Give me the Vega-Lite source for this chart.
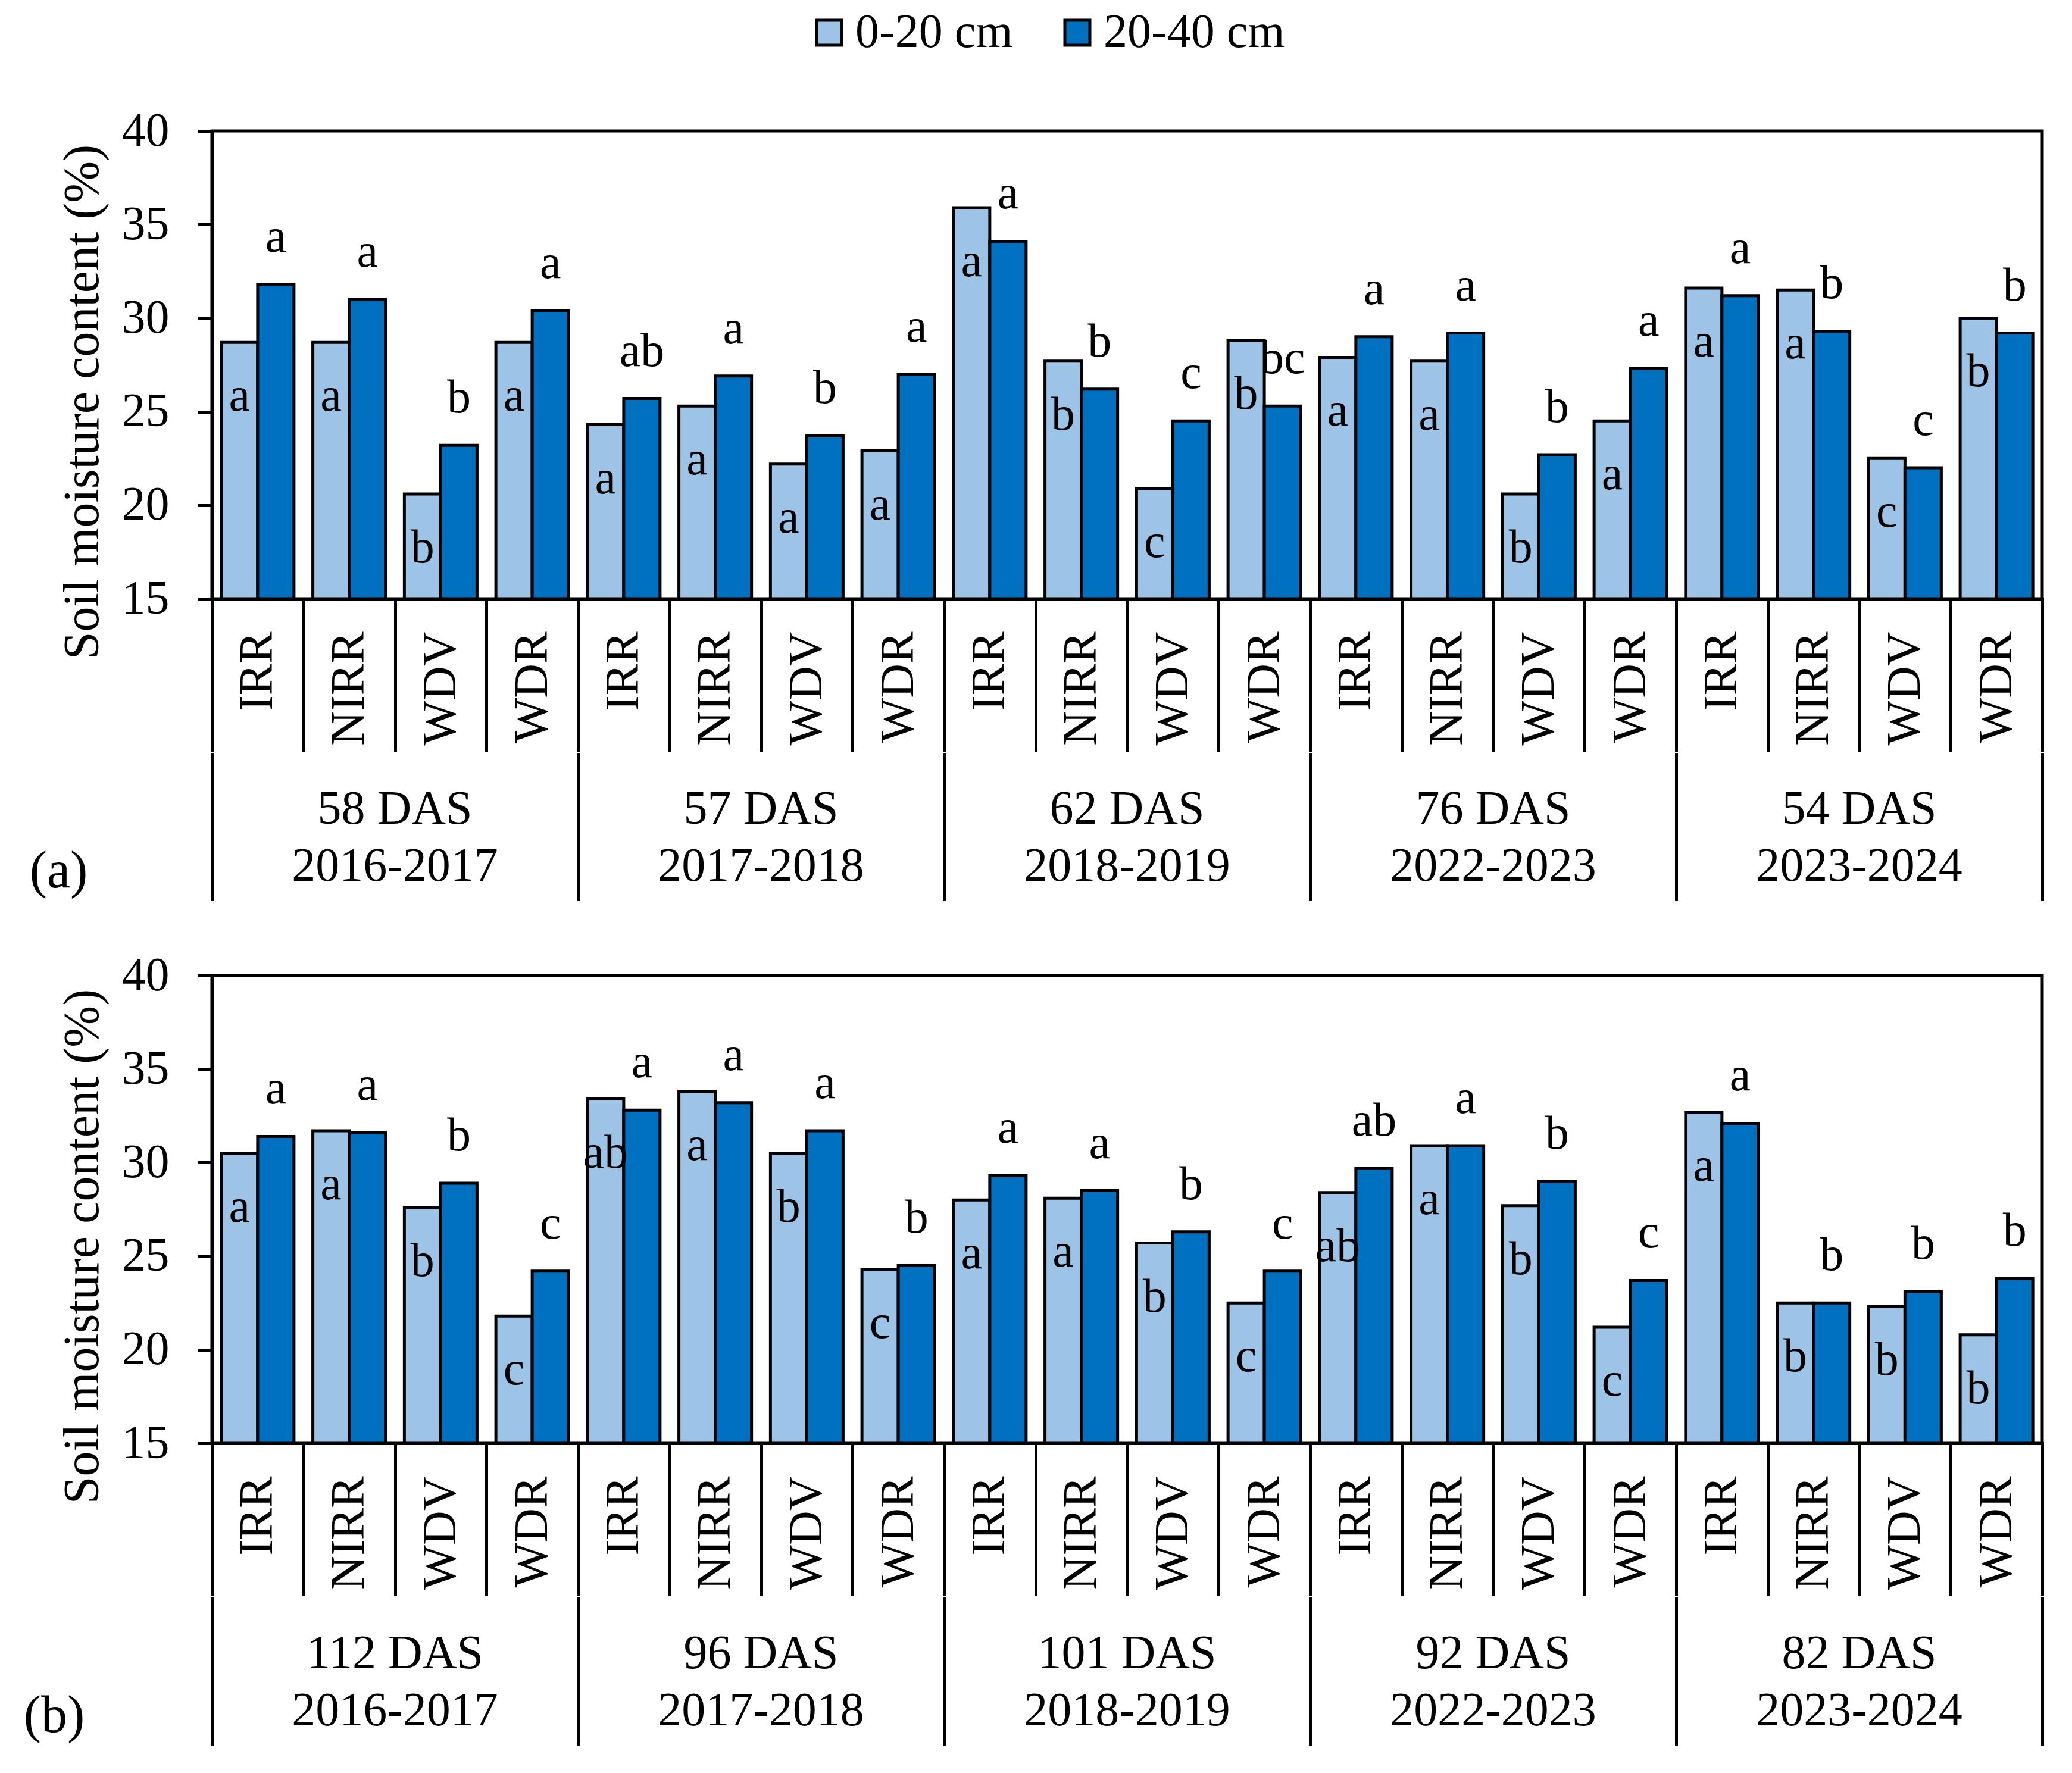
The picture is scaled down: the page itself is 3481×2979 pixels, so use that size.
{
  "$schema": "https://vega.github.io/schema/vega-lite/v6.json",
  "background": "white",
  "padding": {"left": 39, "top": 15, "right": 40, "bottom": 40},
  "datasets": {
    "a": [
      {"g":"2016-2017|IRR","d":"0-20 cm","v":28.7,"l":"a"},{"g":"2016-2017|IRR","d":"20-40 cm","v":31.8,"l":"a"},
      {"g":"2016-2017|NIRR","d":"0-20 cm","v":28.7,"l":"a"},{"g":"2016-2017|NIRR","d":"20-40 cm","v":31.0,"l":"a"},
      {"g":"2016-2017|WDV","d":"0-20 cm","v":20.6,"l":"b"},{"g":"2016-2017|WDV","d":"20-40 cm","v":23.2,"l":"b"},
      {"g":"2016-2017|WDR","d":"0-20 cm","v":28.7,"l":"a"},{"g":"2016-2017|WDR","d":"20-40 cm","v":30.4,"l":"a"},
      {"g":"2017-2018|IRR","d":"0-20 cm","v":24.3,"l":"a"},{"g":"2017-2018|IRR","d":"20-40 cm","v":25.7,"l":"ab"},
      {"g":"2017-2018|NIRR","d":"0-20 cm","v":25.3,"l":"a"},{"g":"2017-2018|NIRR","d":"20-40 cm","v":26.9,"l":"a"},
      {"g":"2017-2018|WDV","d":"0-20 cm","v":22.2,"l":"a"},{"g":"2017-2018|WDV","d":"20-40 cm","v":23.7,"l":"b"},
      {"g":"2017-2018|WDR","d":"0-20 cm","v":22.9,"l":"a"},{"g":"2017-2018|WDR","d":"20-40 cm","v":27.0,"l":"a"},
      {"g":"2018-2019|IRR","d":"0-20 cm","v":35.9,"l":"a"},{"g":"2018-2019|IRR","d":"20-40 cm","v":34.1,"l":"a"},
      {"g":"2018-2019|NIRR","d":"0-20 cm","v":27.7,"l":"b"},{"g":"2018-2019|NIRR","d":"20-40 cm","v":26.2,"l":"b"},
      {"g":"2018-2019|WDV","d":"0-20 cm","v":20.9,"l":"c"},{"g":"2018-2019|WDV","d":"20-40 cm","v":24.5,"l":"c"},
      {"g":"2018-2019|WDR","d":"0-20 cm","v":28.8,"l":"b"},{"g":"2018-2019|WDR","d":"20-40 cm","v":25.3,"l":"bc"},
      {"g":"2022-2023|IRR","d":"0-20 cm","v":27.9,"l":"a"},{"g":"2022-2023|IRR","d":"20-40 cm","v":29.0,"l":"a"},
      {"g":"2022-2023|NIRR","d":"0-20 cm","v":27.7,"l":"a"},{"g":"2022-2023|NIRR","d":"20-40 cm","v":29.2,"l":"a"},
      {"g":"2022-2023|WDV","d":"0-20 cm","v":20.6,"l":"b"},{"g":"2022-2023|WDV","d":"20-40 cm","v":22.7,"l":"b"},
      {"g":"2022-2023|WDR","d":"0-20 cm","v":24.5,"l":"a"},{"g":"2022-2023|WDR","d":"20-40 cm","v":27.3,"l":"a"},
      {"g":"2023-2024|IRR","d":"0-20 cm","v":31.6,"l":"a"},{"g":"2023-2024|IRR","d":"20-40 cm","v":31.2,"l":"a"},
      {"g":"2023-2024|NIRR","d":"0-20 cm","v":31.5,"l":"a"},{"g":"2023-2024|NIRR","d":"20-40 cm","v":29.3,"l":"b"},
      {"g":"2023-2024|WDV","d":"0-20 cm","v":22.5,"l":"c"},{"g":"2023-2024|WDV","d":"20-40 cm","v":22.0,"l":"c"},
      {"g":"2023-2024|WDR","d":"0-20 cm","v":30.0,"l":"b"},{"g":"2023-2024|WDR","d":"20-40 cm","v":29.2,"l":"b"}
    ],
    "b": [
      {"g":"2016-2017|IRR","d":"0-20 cm","v":30.5,"l":"a"},{"g":"2016-2017|IRR","d":"20-40 cm","v":31.4,"l":"a"},
      {"g":"2016-2017|NIRR","d":"0-20 cm","v":31.7,"l":"a"},{"g":"2016-2017|NIRR","d":"20-40 cm","v":31.6,"l":"a"},
      {"g":"2016-2017|WDV","d":"0-20 cm","v":27.6,"l":"b"},{"g":"2016-2017|WDV","d":"20-40 cm","v":28.9,"l":"b"},
      {"g":"2016-2017|WDR","d":"0-20 cm","v":21.8,"l":"c"},{"g":"2016-2017|WDR","d":"20-40 cm","v":24.2,"l":"c"},
      {"g":"2017-2018|IRR","d":"0-20 cm","v":33.4,"l":"ab"},{"g":"2017-2018|IRR","d":"20-40 cm","v":32.8,"l":"a"},
      {"g":"2017-2018|NIRR","d":"0-20 cm","v":33.8,"l":"a"},{"g":"2017-2018|NIRR","d":"20-40 cm","v":33.2,"l":"a"},
      {"g":"2017-2018|WDV","d":"0-20 cm","v":30.5,"l":"b"},{"g":"2017-2018|WDV","d":"20-40 cm","v":31.7,"l":"a"},
      {"g":"2017-2018|WDR","d":"0-20 cm","v":24.3,"l":"c"},{"g":"2017-2018|WDR","d":"20-40 cm","v":24.5,"l":"b"},
      {"g":"2018-2019|IRR","d":"0-20 cm","v":28.0,"l":"a"},{"g":"2018-2019|IRR","d":"20-40 cm","v":29.3,"l":"a"},
      {"g":"2018-2019|NIRR","d":"0-20 cm","v":28.1,"l":"a"},{"g":"2018-2019|NIRR","d":"20-40 cm","v":28.5,"l":"a"},
      {"g":"2018-2019|WDV","d":"0-20 cm","v":25.7,"l":"b"},{"g":"2018-2019|WDV","d":"20-40 cm","v":26.3,"l":"b"},
      {"g":"2018-2019|WDR","d":"0-20 cm","v":22.5,"l":"c"},{"g":"2018-2019|WDR","d":"20-40 cm","v":24.2,"l":"c"},
      {"g":"2022-2023|IRR","d":"0-20 cm","v":28.4,"l":"ab"},{"g":"2022-2023|IRR","d":"20-40 cm","v":29.7,"l":"ab"},
      {"g":"2022-2023|NIRR","d":"0-20 cm","v":30.9,"l":"a"},{"g":"2022-2023|NIRR","d":"20-40 cm","v":30.9,"l":"a"},
      {"g":"2022-2023|WDV","d":"0-20 cm","v":27.7,"l":"b"},{"g":"2022-2023|WDV","d":"20-40 cm","v":29.0,"l":"b"},
      {"g":"2022-2023|WDR","d":"0-20 cm","v":21.2,"l":"c"},{"g":"2022-2023|WDR","d":"20-40 cm","v":23.7,"l":"c"},
      {"g":"2023-2024|IRR","d":"0-20 cm","v":32.7,"l":"a"},{"g":"2023-2024|IRR","d":"20-40 cm","v":32.1,"l":"a"},
      {"g":"2023-2024|NIRR","d":"0-20 cm","v":22.5,"l":"b"},{"g":"2023-2024|NIRR","d":"20-40 cm","v":22.5,"l":"b"},
      {"g":"2023-2024|WDV","d":"0-20 cm","v":22.3,"l":"b"},{"g":"2023-2024|WDV","d":"20-40 cm","v":23.1,"l":"b"},
      {"g":"2023-2024|WDR","d":"0-20 cm","v":20.8,"l":"b"},{"g":"2023-2024|WDR","d":"20-40 cm","v":23.8,"l":"b"}
    ],
    "sa": [
      {"yr":"2016-2017","lab":"58 DAS|2016-2017"},{"yr":"2017-2018","lab":"57 DAS|2017-2018"},
      {"yr":"2018-2019","lab":"62 DAS|2018-2019"},{"yr":"2022-2023","lab":"76 DAS|2022-2023"},
      {"yr":"2023-2024","lab":"54 DAS|2023-2024"}
    ],
    "sb": [
      {"yr":"2016-2017","lab":"112 DAS|2016-2017"},{"yr":"2017-2018","lab":"96 DAS|2017-2018"},
      {"yr":"2018-2019","lab":"101 DAS|2018-2019"},{"yr":"2022-2023","lab":"92 DAS|2022-2023"},
      {"yr":"2023-2024","lab":"82 DAS|2023-2024"}
    ]
  },
  "spacing": 85,
  "resolve": {"scale": {"x": "independent", "y": "independent"}},
  "vconcat": [
    {
      "spacing": 0,
      "resolve": {"scale": {"x": "independent", "y": "independent"}},
      "vconcat": [
        {
          "width": 3075, "height": 786,
          "view": {"stroke": "black", "strokeWidth": 5},
          "data": {"name": "a"},
          "encoding": {
            "x": {"field": "g", "type": "nominal", "sort": null, "scale": {"paddingInner": 0, "paddingOuter": 0},
              "axis": {"title": null, "labelExpr": "split(datum.label, '|')[1]", "labelAngle": 270, "labelAlign": "right", "labelBaseline": "middle", "labelPadding": -199, "labelFontSize": 80, "labelLimit": 0, "labelOverlap": false, "tickBand": "extent", "tickSize": 254, "tickWidth": 5, "tickCap": "square", "tickColor": "black", "domainColor": "black", "domainWidth": 5}},
            "xOffset": {"field": "d", "type": "nominal", "scale": {"domain": ["0-20 cm","20-40 cm"], "paddingInner": 0, "paddingOuter": 0.26}},
            "y": {"field": "v", "type": "quantitative", "scale": {"domain": [15, 40], "zero": false, "nice": false},
              "axis": {"title": "Soil moisture content (%)", "values": [15,20,25,30,35,40], "tickSize": 24, "tickWidth": 5, "tickColor": "black", "domainColor": "black", "domainWidth": 5, "labelFontSize": 80, "labelPadding": 48, "titleFontSize": 84, "titlePadding": 22, "titleY": 455, "grid": false}}
          },
          "layer": [
            {"mark": {"type": "bar", "stroke": "black", "strokeWidth": 5},
             "encoding": {"y2": {"datum": 15},
               "color": {"field": "d", "type": "nominal", "scale": {"domain": ["0-20 cm","20-40 cm"], "range": ["#9DC3E6","#0070C0"]},
                 "legend": {"orient": "none", "legendX": 997, "legendY": -205, "direction": "horizontal", "title": null, "symbolType": "square", "symbolSize": 1764, "symbolStrokeColor": "black", "symbolStrokeWidth": 5, "symbolOpacity": 1, "labelFontSize": 80, "labelLimit": 0, "labelOffset": 4, "columnPadding": 68, "padding": 0}}}},
            {"transform": [{"filter": "datum.d == '0-20 cm'"}],
             "mark": {"type": "text", "fontSize": 80, "baseline": "alphabetic", "dy": 115, "color": "black"},
             "encoding": {"text": {"field": "l"}}},
            {"transform": [{"filter": "datum.d == '20-40 cm'"}],
             "mark": {"type": "text", "fontSize": 80, "baseline": "alphabetic", "dy": -55, "color": "black"},
             "encoding": {"text": {"field": "l"}}}
          ]
        },
        {
          "width": 3075, "height": 244,
          "data": {"name": "sa"},
          "title": {"text": "(a)", "orient": "left", "angle": 0, "anchor": "start", "align": "right", "baseline": "alphabetic", "offset": 111, "dy": -20, "fontSize": 88, "fontWeight": "normal", "color": "black"},
          "mark": {"type": "text", "fontSize": 80, "lineBreak": "|", "lineHeight": 96, "baseline": "alphabetic", "dy": -5, "color": "black"},
          "encoding": {
            "x": {"field": "yr", "type": "nominal", "scale": {"paddingInner": 0, "paddingOuter": 0},
              "axis": {"orient": "top", "title": null, "labels": false, "ticks": false, "domain": false, "grid": true, "tickBand": "extent", "gridColor": "black", "gridWidth": 5, "gridCap": "square", "gridOpacity": 1}},
            "text": {"field": "lab"}
          }
        }
      ]
    },
    {
      "spacing": 0,
      "resolve": {"scale": {"x": "independent", "y": "independent"}},
      "vconcat": [
        {
          "width": 3075, "height": 786,
          "view": {"stroke": "black", "strokeWidth": 5},
          "data": {"name": "b"},
          "encoding": {
            "x": {"field": "g", "type": "nominal", "sort": null, "scale": {"paddingInner": 0, "paddingOuter": 0},
              "axis": {"title": null, "labelExpr": "split(datum.label, '|')[1]", "labelAngle": 270, "labelAlign": "right", "labelBaseline": "middle", "labelPadding": -199, "labelFontSize": 80, "labelLimit": 0, "labelOverlap": false, "tickBand": "extent", "tickSize": 254, "tickWidth": 5, "tickCap": "square", "tickColor": "black", "domainColor": "black", "domainWidth": 5}},
            "xOffset": {"field": "d", "type": "nominal", "scale": {"domain": ["0-20 cm","20-40 cm"], "paddingInner": 0, "paddingOuter": 0.26}},
            "y": {"field": "v", "type": "quantitative", "scale": {"domain": [15, 40], "zero": false, "nice": false},
              "axis": {"title": "Soil moisture content (%)", "values": [15,20,25,30,35,40], "tickSize": 24, "tickWidth": 5, "tickColor": "black", "domainColor": "black", "domainWidth": 5, "labelFontSize": 80, "labelPadding": 48, "titleFontSize": 84, "titlePadding": 22, "titleY": 455, "grid": false}}
          },
          "layer": [
            {"mark": {"type": "bar", "stroke": "black", "strokeWidth": 5},
             "encoding": {"y2": {"datum": 15},
               "color": {"field": "d", "type": "nominal", "scale": {"domain": ["0-20 cm","20-40 cm"], "range": ["#9DC3E6","#0070C0"]}}}},
            {"transform": [{"filter": "datum.d == '0-20 cm'"}],
             "mark": {"type": "text", "fontSize": 80, "baseline": "alphabetic", "dy": 115, "color": "black"},
             "encoding": {"text": {"field": "l"}}},
            {"transform": [{"filter": "datum.d == '20-40 cm'"}],
             "mark": {"type": "text", "fontSize": 80, "baseline": "alphabetic", "dy": -55, "color": "black"},
             "encoding": {"text": {"field": "l"}}}
          ]
        },
        {
          "width": 3075, "height": 244,
          "data": {"name": "sb"},
          "title": {"text": "(b)", "orient": "left", "angle": 0, "anchor": "start", "align": "right", "baseline": "alphabetic", "offset": 111, "dy": -20, "fontSize": 88, "fontWeight": "normal", "color": "black"},
          "mark": {"type": "text", "fontSize": 80, "lineBreak": "|", "lineHeight": 96, "baseline": "alphabetic", "dy": -5, "color": "black"},
          "encoding": {
            "x": {"field": "yr", "type": "nominal", "scale": {"paddingInner": 0, "paddingOuter": 0},
              "axis": {"orient": "top", "title": null, "labels": false, "ticks": false, "domain": false, "grid": true, "tickBand": "extent", "gridColor": "black", "gridWidth": 5, "gridCap": "square", "gridOpacity": 1}},
            "text": {"field": "lab"}
          }
        }
      ]
    }
  ],
  "config": {
    "font": "Liberation Serif",
    "view": {"stroke": null},
    "text": {"font": "Liberation Serif"},
    "axis": {"labelFont": "Liberation Serif", "titleFont": "Liberation Serif", "labelColor": "black", "titleColor": "black", "titleFontWeight": "normal"},
    "legend": {"labelFont": "Liberation Serif", "labelColor": "black"},
    "title": {"font": "Liberation Serif"}
  }
}
